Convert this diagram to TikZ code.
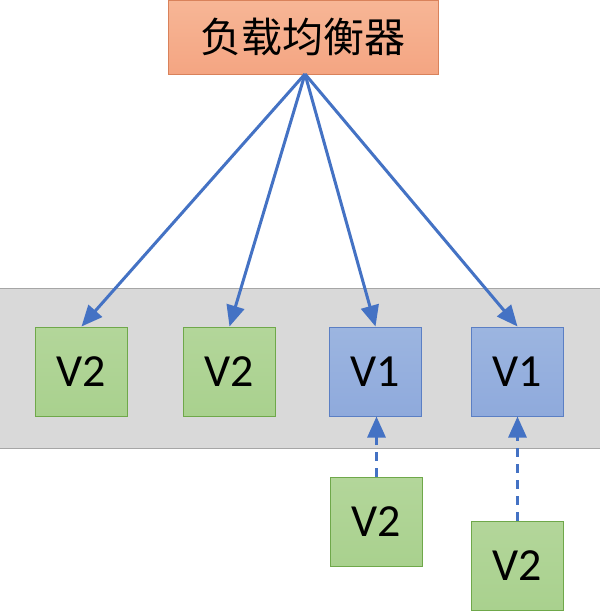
\documentclass[tikz,border=0pt]{standalone}
\usepackage{fontspec}
\setmainfont{Carlito}
\newfontfamily\cjk{Noto Sans CJK SC}
\usetikzlibrary{arrows.meta,shadings}
\definecolor{lbfill}{HTML}{F4A582}
\definecolor{lbtop}{HTML}{F7B696}
\definecolor{lbdraw}{HTML}{D9825B}
\definecolor{gfill}{HTML}{A9D18E}
\definecolor{gtop}{HTML}{B3D69A}
\definecolor{gdraw}{HTML}{6FA84A}
\definecolor{bfill}{HTML}{8FAADC}
\definecolor{btop}{HTML}{9CB5E0}
\definecolor{bdraw}{HTML}{5B7FC4}
\definecolor{band}{HTML}{D9D9D9}
\definecolor{banddraw}{HTML}{A6A6A6}
\definecolor{arr}{HTML}{4472C4}
\tikzset{
  vbox/.style={minimum width=92pt,minimum height=89pt,inner sep=0pt,line width=1pt,font=\fontsize{46}{46}\selectfont},
  gbox/.style={vbox,draw=gdraw,top color=gtop,bottom color=gfill},
  bbox/.style={vbox,draw=bdraw,top color=btop,bottom color=bfill},
  conn/.style={draw=arr,line width=3pt,-{Triangle[length=21pt,width=18pt]}},
  dconn/.style={conn,dash pattern=on 9pt off 7pt},
}
\begin{document}
\begin{tikzpicture}[x=1pt,y=-1pt]
\useasboundingbox (0,0) rectangle (600,614);
\fill[white] (0,0) rectangle (600,614);
\draw[banddraw,fill=band,line width=1pt] (-3,288) rectangle (603,448);
\node[draw=lbdraw,line width=1pt,top color=lbtop,bottom color=lbfill,minimum width=270pt,minimum height=74pt,inner sep=0pt,font=\cjk\fontsize{41}{41}\selectfont] (lb) at (303,37) {负载均衡器};
\coordinate (src) at (305,74);
\node[gbox] (b1) at (81.5,371.5) {V2};
\node[gbox] (b2) at (229.5,371.5) {V2};
\node[bbox] (b3) at (375.5,371.5) {V1};
\node[bbox] (b4) at (517.5,371.5) {V1};
\node[gbox] (b5) at (376.5,522) {V2};
\node[gbox] (b6) at (517.5,565.5) {V2};
\draw[conn] (src) -- (b1.north);
\draw[conn] (src) -- (b2.north);
\draw[conn] (src) -- (b3.north);
\draw[conn] (src) -- (b4.north);
\draw[dconn] (b5.north) -- (b5.north |- b3.south);
\draw[dconn] (b6.north) -- (b4.south);
\end{tikzpicture}
\end{document}
